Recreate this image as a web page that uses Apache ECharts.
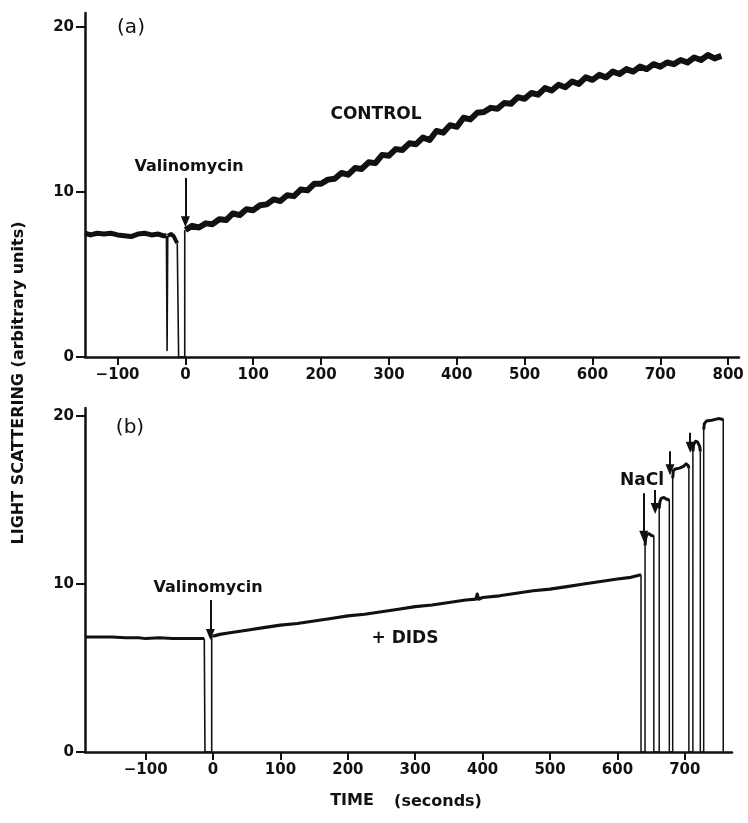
<!DOCTYPE html>
<html>
<head>
<meta charset="utf-8">
<script src="https://cdn.jsdelivr.net/npm/echarts@6/dist/echarts.min.js"></script>
<style>
html,body{margin:0;padding:0;background:#fff;}
#c{width:748px;height:823px;}
</style>
</head>
<body>
<div id="c"></div>
<script>
// ---------- tick labels ----------
const topXTicks = [-100, 0, 100, 200, 300, 400, 500, 600, 700, 800];
const botXTicks = [-100, 0, 100, 200, 300, 400, 500, 600, 700];
const yTicks = [0, 10, 20];

// ---------- panel (a) CONTROL ----------
const topBaseT = [-148, -140, -130, -120, -110, -100, -90, -80, -70, -60, -50, -40, -33, -28];
const topBaseV = [7.5, 7.4, 7.5, 7.45, 7.5, 7.4, 7.35, 7.3, 7.45, 7.5, 7.4, 7.45, 7.35, 7.35];
const topGapT = [-26, -21, -17, -14, -12];
const topGapV = [7.35, 7.45, 7.3, 7.05, 6.9];
const topSpikeT = [-28, -27, -26, null, -12, -10, -1, -1];
const topSpikeV = [7.35, 0.4, 7.35, null, 6.9, 0.0, 0.0, 7.7];
const topRiseT = [0, 10, 20, 30, 40, 50, 60, 70, 80, 90, 100, 110, 120, 130, 140, 150, 160, 170, 180, 190,
  200, 210, 220, 230, 240, 250, 260, 270, 280, 290, 300, 310, 320, 330, 340, 350, 360, 370, 380, 390,
  400, 410, 420, 430, 440, 450, 460, 470, 480, 490, 500, 510, 520, 530, 540, 550, 560, 570, 580, 590,
  600, 610, 620, 630, 640, 650, 660, 670, 680, 690, 700, 710, 720, 730, 740, 750, 760, 770, 780, 790];
const topRiseV = [7.7, 7.95, 7.85, 8.1, 8.05, 8.35, 8.3, 8.7, 8.6, 8.95, 8.9, 9.2, 9.25, 9.55, 9.45, 9.8, 9.75, 10.15, 10.1, 10.5,
  10.5, 10.75, 10.8, 11.15, 11.05, 11.45, 11.4, 11.8, 11.75, 12.25, 12.2, 12.6, 12.55, 12.95, 12.9, 13.3, 13.15, 13.7, 13.6, 14.05,
  13.95, 14.5, 14.4, 14.8, 14.85, 15.1, 15.05, 15.4, 15.35, 15.75, 15.65, 16.0, 15.9, 16.3, 16.15, 16.5, 16.35, 16.7, 16.55, 16.95,
  16.8, 17.1, 16.95, 17.3, 17.15, 17.45, 17.3, 17.6, 17.45, 17.75, 17.6, 17.85, 17.75, 18.0, 17.85, 18.15, 18.0, 18.3, 18.1, 18.25];
const topArrowT = [0, 0];
const topArrowV = [10.85, 8.2];

// ---------- panel (b) + DIDS ----------
const botBaseT = [-190, -170, -150, -130, -110, -100, -80, -60, -40, -25, -13];
const botBaseV = [6.85, 6.85, 6.85, 6.8, 6.8, 6.75, 6.8, 6.75, 6.75, 6.75, 6.75];
const botSpikeT = [-13, -12, -2, -2, 0];
const botSpikeV = [6.75, 0.0, 0.0, 6.9, 6.9];
const botRiseT = [0, 10, 25, 50, 75, 100, 125, 150, 175, 200, 225, 250, 275, 300, 325, 350, 375, 390, 392, 394, 400,
  425, 450, 475, 500, 525, 550, 575, 600, 620, 635];
const botRiseV = [6.9, 7.0, 7.1, 7.25, 7.4, 7.55, 7.65, 7.8, 7.95, 8.1, 8.2, 8.35, 8.5, 8.65, 8.75, 8.9, 9.05, 9.1, 9.4, 9.1, 9.2,
  9.3, 9.45, 9.6, 9.7, 9.85, 10.0, 10.15, 10.3, 10.4, 10.55];
// NaCl additions: recorder trace (vertical excursions to zero and plateaus)
const stepT = [635, 635, 641, 641, 642, 644, 647, 650, 654, 654, 662, 662, 663, 665, 669, 673, 677, 677, 682, 682, 683, 686, 692, 698, 702, 705, 706, 706,
  712, 712, 713, 716, 719, 722, 723, 723, 728, 728, 729, 732, 740, 750, 757, 757];
const stepV = [10.55, 0, 0, 12.3, 12.75, 12.95, 13.0, 12.9, 12.85, 0, 0, 14.5, 14.9, 15.1, 15.15, 15.05, 15.0, 0, 0, 16.3, 16.75, 16.85, 16.9, 17.0, 17.15, 17.05, 16.9, 0,
  0, 17.9, 18.3, 18.5, 18.45, 18.2, 17.9, 0, 0, 19.2, 19.55, 19.7, 19.75, 19.85, 19.8, 0];
const plateauT = [641, 642, 644, 647, 650, 654, null, 662, 663, 665, 669, 673, 677, null, 682, 683, 686, 692, 698, 702, 705, 706, null,
  712, 713, 716, 719, 722, 723, null, 728, 729, 732, 740, 750, 757];
const plateauV = [12.3, 12.75, 12.95, 13.0, 12.9, 12.85, null, 14.5, 14.9, 15.1, 15.15, 15.05, 15.0, null, 16.3, 16.75, 16.85, 16.9, 17.0, 17.15, 17.05, 16.9, null,
  17.9, 18.3, 18.5, 18.45, 18.2, 17.9, null, 19.2, 19.55, 19.7, 19.75, 19.85, 19.8];
const botArrowT = [-4, 639, 656, 678, 708, 727];
const botArrowFrom = [9.05, 15.4, 15.6, 17.9, 19.0, 20.5];
const botArrowTo = [7.0, 12.85, 14.5, 16.8, 18.15, 19.35];

function pairs(t, v) { return t.map((x, i) => (x === null ? [null, null] : [x, v[i]])); }

const FONT = 'DejaVu Sans';
const INK = '#111';

function xAxis(grid, min, max, ticks) {
  return {
    gridIndex: grid, type: 'value', min: min, max: max,
    axisLine: { show: true, onZero: false, lineStyle: { color: INK, width: 2.5 } },
    axisTick: { show: true, length: 8, customValues: ticks, lineStyle: { color: INK, width: 2 } },
    axisLabel: { customValues: ticks, margin: 11, color: INK, fontFamily: FONT, fontWeight: 'bold', fontSize: 15,
      formatter: v => (v < 0 ? '\u2212' + Math.abs(v) : String(v)) },
    splitLine: { show: false }
  };
}
function yAxis(grid, max) {
  return {
    gridIndex: grid, type: 'value', min: 0, max: max,
    axisLine: { show: true, onZero: false, lineStyle: { color: INK, width: 2.5 } },
    axisTick: { show: true, length: 9, customValues: yTicks, lineStyle: { color: INK, width: 2 } },
    axisLabel: { customValues: yTicks, margin: 11, color: INK, fontFamily: FONT, fontWeight: 'bold', fontSize: 15 },
    splitLine: { show: false }
  };
}
function line(xi, data, w, extra) {
  return Object.assign({
    type: 'line', xAxisIndex: xi, yAxisIndex: xi, data: data, symbol: 'none', silent: true,
    connectNulls: false, animation: false,
    lineStyle: { color: INK, width: w, join: 'round' }
  }, extra || {});
}
function arrows(ts, from, to) {
  return {
    silent: true, symbol: ['none', 'triangle'], symbolSize: [9, 11], symbolRotate: 180,
    label: { show: false },
    lineStyle: { color: INK, width: 2, type: 'solid' },
    data: ts.map((t, i) => [{ coord: [t, from[i]] }, { coord: [t, to[i]] }])
  };
}
function txt(x, y, s, size, extra) {
  return Object.assign({
    type: 'text', x: x, y: y,
    style: { text: s, fill: INK, font: 'bold ' + size + 'px "' + FONT + '"', textAlign: 'center', textVerticalAlign: 'middle' }
  }, extra || {});
}

const chart = echarts.init(document.getElementById('c'), null, { renderer: 'canvas' });
chart.setOption({
  backgroundColor: '#fff',
  animation: false,
  grid: [
    { left: 85, top: 13, width: 654, height: 344 },
    { left: 85, top: 408, width: 647, height: 344 }
  ],
  xAxis: [xAxis(0, -148, 816, topXTicks), xAxis(1, -190, 770, botXTicks)],
  yAxis: [yAxis(0, 20.85), yAxis(1, 20.48)],
  series: [
    line(0, pairs(topBaseT, topBaseV), 5),
    line(0, pairs(topGapT, topGapV), 4),
    line(0, pairs(topSpikeT, topSpikeV), 1.6),
    line(0, pairs(topRiseT, topRiseV), 6, { markLine: arrows([topArrowT[0]], [topArrowV[0]], [topArrowV[1]]) }),
    line(1, pairs(botBaseT, botBaseV), 3),
    line(1, pairs(botSpikeT, botSpikeV), 1.6),
    line(1, pairs(botRiseT, botRiseV), 3.2, { markLine: arrows(botArrowT, botArrowFrom, botArrowTo) }),
    line(1, pairs(stepT, stepV), 1.5),
    line(1, pairs(plateauT, plateauV), 3)
  ],
  graphic: [
    txt(131, 28, '(a)', 19, { style: { text: '(a)', fill: INK, font: '20px "' + FONT + '"', textAlign: 'center', textVerticalAlign: 'middle' } }),
    txt(189, 167, 'Valinomycin', 16),
    txt(376, 115, 'CONTROL', 17),
    txt(130, 428, '(b)', 19, { style: { text: '(b)', fill: INK, font: '20px "' + FONT + '"', textAlign: 'center', textVerticalAlign: 'middle' } }),
    txt(208, 588, 'Valinomycin', 16),
    txt(405, 639, '+ DIDS', 17),
    txt(642, 481, 'NaCl', 17),
    txt(352, 801, 'TIME', 16),
    txt(438, 802, '(seconds)', 16),
    txt(19, 383, 'LIGHT SCATTERING (arbitrary units)', 16, { rotation: Math.PI / 2 })
  ]
});
</script>
</body>
</html>
